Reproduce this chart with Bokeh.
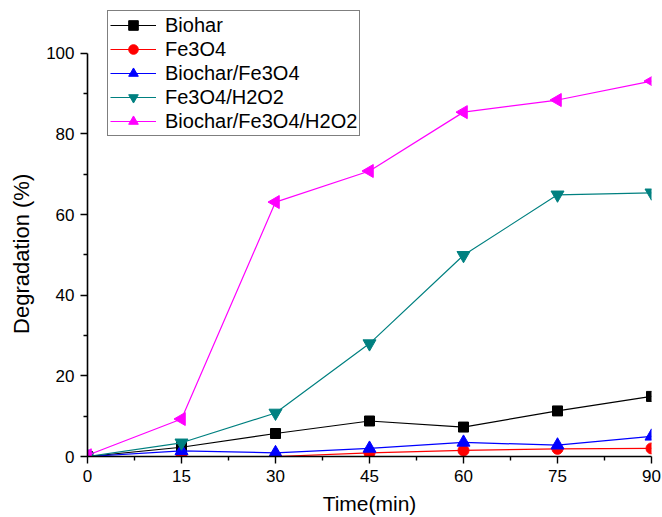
import numpy as np
from bokeh.plotting import figure
from bokeh.models import Range1d, FixedTicker, Legend, LegendItem
from bokeh.embed import file_html
from bokeh.resources import INLINE

time = [0, 15, 30, 45, 60, 75, 90]
biohar = [0, 2.3, 5.7, 8.8, 7.3, 11.3, 14.9]
fe3o4 = [0, 0, 0, 0.9, 1.5, 1.9, 2.0]
biochar_fe3o4 = [0, 1.4, 0.9, 2.0, 3.5, 2.8, 5.0]
fe3o4_h2o2 = [0, 3.4, 10.8, 28.0, 49.9, 64.9, 65.4]
biochar_fe3o4_h2o2 = [0.3, 9.3, 63.1, 70.8, 85.4, 88.4, 93.1]

x_ticks = [0, 15, 30, 45, 60, 75, 90]
y_ticks = [0, 20, 40, 60, 80, 100]

FONT = "Liberation Sans"

p = figure(width=662, height=517, output_backend="svg", toolbar_location=None,
           x_range=Range1d(0, 90), y_range=Range1d(0, 111.1),
           min_border_left=87, min_border_right=11, min_border_top=8, min_border_bottom=60)
p.outline_line_color = None
p.xgrid.visible = False
p.ygrid.visible = False
p.background_fill_color = "white"
p.border_fill_color = "white"

series = [
    ("Biohar", biohar, "black", "square", 10, 0),
    ("Fe3O4", fe3o4, "red", "circle", 11, 0),
    ("Biochar/Fe3O4", biochar_fe3o4, "blue", "triangle", 13, 0),
    ("Fe3O4/H2O2", fe3o4_h2o2, "#008080", "inverted_triangle", 13, 0),
    ("Biochar/Fe3O4/H2O2", biochar_fe3o4_h2o2, "#FF00FF", "triangle", 13, np.pi / 2),
]

items = []
for name, vals, col, marker, size, ang in series:
    l = p.line(time, vals, line_color=col, line_width=1.2)
    s = p.scatter(time, vals, marker=marker, size=size, fill_color=col, line_color=col, angle=ang)
    items.append(LegendItem(label=name, renderers=[l, s]))

legend = Legend(items=items, location=(20, 320), orientation="vertical")
legend.border_line_color = "black"
legend.border_line_width = 1
legend.background_fill_color = "white"
legend.background_fill_alpha = 1
legend.label_text_font = FONT
legend.label_text_font_size = "20px"
legend.label_text_color = "black"
legend.glyph_width = 46
legend.glyph_height = 24
legend.label_height = 24
legend.label_standoff = 9
legend.spacing = 0
legend.padding = 2
legend.margin = 0
p.add_layout(legend, "center")

for ax in (p.xaxis, p.yaxis):
    ax.axis_line_width = 1.6
    ax.axis_line_color = "black"
    ax.major_tick_line_width = 1.4
    ax.minor_tick_line_width = 1.4
    ax.major_tick_in = 0
    ax.major_tick_out = 7
    ax.minor_tick_in = 0
    ax.minor_tick_out = 4
    ax.major_label_text_font = FONT
    ax.major_label_text_font_size = "17px"
    ax.major_label_text_color = "black"
    ax.axis_label_text_font = FONT
    ax.axis_label_text_font_style = "normal"
    ax.axis_label_text_color = "black"
    ax.major_label_standoff = 6

p.xaxis.axis_label_text_font_size = "21px"
p.yaxis.axis_label_text_font_size = "22px"
p.yaxis.bounds = (0, 100)
p.xaxis.ticker = FixedTicker(ticks=x_ticks, minor_ticks=[7.5, 22.5, 37.5, 52.5, 67.5, 82.5])
p.yaxis.ticker = FixedTicker(ticks=y_ticks, minor_ticks=[10, 30, 50, 70, 90])
p.xaxis.axis_label = "Time(min)"
p.yaxis.axis_label = "Degradation (%)" + "\u00a0" * 7
p.xaxis.axis_label_standoff = 7
p.yaxis.axis_label_standoff = 9

open("out.html", "w").write(file_html(p, INLINE))
